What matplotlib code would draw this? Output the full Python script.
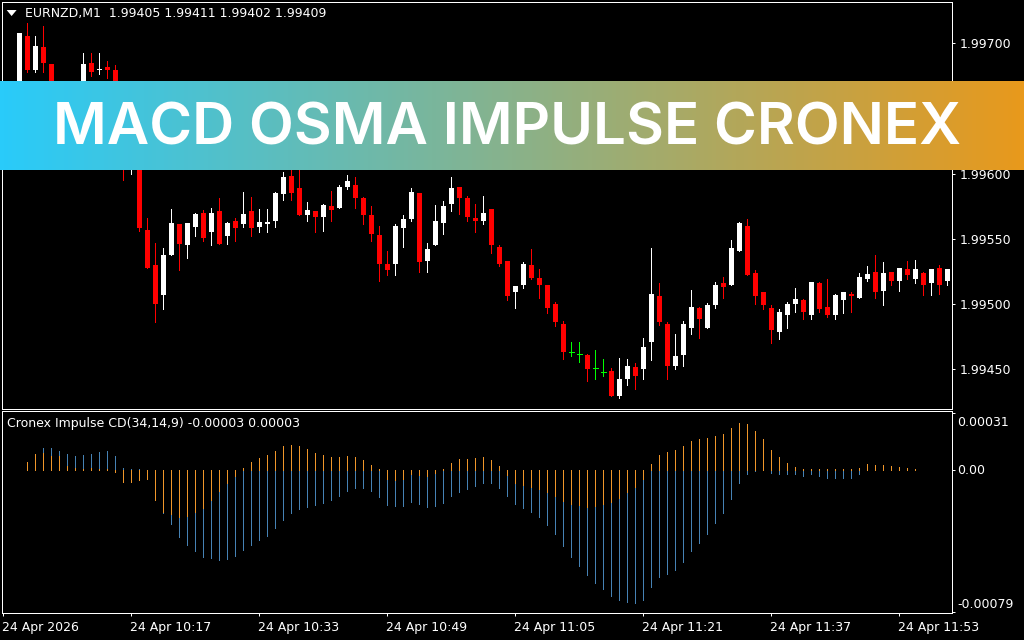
import matplotlib
matplotlib.use('Agg')
import matplotlib.pyplot as plt
from matplotlib.colors import LinearSegmentedColormap
from matplotlib.transforms import ScaledTranslation
import numpy as np

W, H = 1024, 640

# candles, in points above 1.99000 (bars 5-7 and parts of others sit behind the banner)
opens = [664, 705, 679, 697, 684, 640, 650, 646, 650, 685, 679, 682, 679, 630, 615, 640, 557, 530, 507, 538,
         561, 545, 559, 570, 555, 571, 552, 564, 561, 571, 559, 561, 564, 584, 598, 589, 568, 571, 567, 575,
         574, 590, 591, 581, 568, 553, 531, 531, 558, 565, 585, 533, 545, 562, 577, 590, 581, 566, 564, 573,
         544, 533, 509, 515, 530, 520, 515, 500, 485, 463, 462, 461, 451, 448, 449, 430, 443, 452, 450, 471,
         506, 485, 453, 461, 482, 497, 482, 499, 516, 515, 541, 560, 524, 509, 497, 479, 492, 500, 503, 492,
         516, 498, 492, 503, 508, 505, 519, 525, 510, 525, 518, 527, 519, 524, 516, 528, 518]
highs = [708, 715, 705, 713, 684, 650, 662, 668, 692, 692, 692, 686, 683, 640, 650, 645, 566, 547, 543, 573,
         561, 562, 570, 572, 574, 581, 563, 566, 586, 582, 573, 573, 586, 601, 610, 605, 578, 571, 577, 587,
         591, 599, 597, 582, 575, 560, 541, 561, 568, 589, 585, 547, 576, 579, 597, 590, 583, 577, 583, 573,
         545, 533, 514, 532, 542, 527, 515, 502, 487, 471, 471, 462, 465, 458, 451, 459, 458, 455, 474, 543,
         516, 486, 477, 487, 511, 498, 501, 517, 521, 549, 563, 565, 526, 509, 499, 496, 502, 512, 504, 517,
         517, 519, 508, 509, 509, 524, 529, 538, 532, 525, 528, 533, 534, 525, 527, 530, 527]
lows = [664, 678, 678, 678, 658, 632, 640, 640, 645, 675, 676, 673, 650, 595, 600, 556, 528, 486, 496, 538,
        526, 535, 552, 548, 545, 546, 546, 548, 559, 552, 555, 555, 559, 580, 580, 568, 564, 555, 556, 564,
        574, 588, 574, 561, 548, 518, 522, 522, 544, 564, 525, 525, 545, 554, 571, 569, 564, 555, 561, 539,
        529, 503, 497, 512, 519, 505, 493, 483, 458, 460, 456, 441, 443, 445, 430, 428, 438, 435, 443, 457,
        484, 443, 450, 453, 477, 474, 482, 497, 505, 515, 541, 522, 500, 496, 470, 473, 482, 494, 489, 489,
        494, 490, 489, 493, 494, 505, 518, 505, 499, 515, 510, 519, 516, 507, 507, 508, 515]
closes = [708, 679, 698, 685, 660, 648, 644, 660, 684, 678, 680, 679, 656, 615, 640, 558, 528, 500, 538, 562,
          546, 562, 569, 551, 570, 546, 562, 558, 569, 558, 563, 563, 585, 597, 585, 568, 572, 567, 576, 572,
          590, 594, 581, 568, 554, 531, 526, 560, 565, 586, 532, 542, 564, 575, 589, 581, 567, 564, 570, 545,
          531, 506, 514, 531, 520, 515, 497, 486, 463, 463, 462, 450, 451, 448, 430, 443, 453, 445, 467, 508,
          486, 453, 460, 485, 498, 489, 499, 515, 513, 543, 562, 522, 506, 499, 480, 494, 500, 504, 494, 517,
          496, 492, 507, 509, 506, 521, 523, 509, 524, 518, 528, 522, 527, 515, 527, 515, 527]

# indicator, in points (0.00001), bars 1 to 112
osma_orange = [4.2, 8.4, 9.1, 7.5, 7.5, 2.0, 0.7, 0.4, 0.7, 0.2, 0.2, -1.3, -6.7, -6.7, -5.7, -5.1, -16.6, -23.0,
               -24.3, -25.7, -25.4, -23.3, -21.0, -16.6, -11.7, -7.3, -3.5, 0.7, 4.2, 6.4, 8.0, 10.2, 13.0, 13.5,
               13.0, 11.3, 9.1, 8.0, 6.9, 6.9, 7.5, 6.9, 5.3, 2.6, 0.4, -5.1, -5.7, -5.1, -2.4, -2.9, -3.5, -1.8,
               0.4, 3.6, 5.8, 5.8, 6.4, 6.9, 5.3, 2.0, -2.9, -7.3, -8.4, -9.5, -10.6, -12.2, -14.4, -17.1, -18.8,
               -19.3, -20.4, -19.9, -18.8, -17.7, -15.5, -12.2, -9.5, -5.1, 3.1, 8.0, 9.7, 10.8, 13.0, 15.7, 16.8,
               17.3, 18.4, 19.5, 22.8, 25.5, 25.0, 21.2, 16.8, 10.8, 6.9, 3.6, 1.5, 0.4, 0.4, 0.4, 0.4, 0.4, 0.4,
               0.4, 0.9, 3.1, 2.6, 2.6, 2.0, 1.5, 0.9, 0.4]
osma_blue = [2.6, 6.2, 11.9, 11.9, 10.2, 8.6, 7.5, 8.0, 8.6, 9.7, 10.2, 7.5, 0.7, 0.4, 0.2, -1.1, -6.6, -23.7,
             -29.7, -36.8, -41.2, -44.5, -47.8, -48.3, -49.4, -48.9, -47.2, -44.0, -41.2, -38.5, -36.3, -31.9,
             -27.5, -23.7, -21.5, -20.4, -19.3, -18.2, -16.6, -14.4, -11.7, -10.0, -10.0, -11.7, -15.0, -19.3,
             -19.9, -19.9, -17.7, -18.8, -20.4, -19.9, -18.2, -14.4, -12.2, -10.6, -8.9, -7.3, -7.3, -10.0, -14.4,
             -18.8, -21.0, -23.2, -25.9, -30.3, -35.2, -41.8, -47.8, -52.7, -57.6, -62.0, -65.3, -69.1, -71.3,
             -72.4, -73.0, -71.3, -64.2, -58.7, -57.1, -54.9, -50.5, -44.5, -40.1, -35.2, -29.2, -23.7, -16.1,
             -7.3, -2.4, -0.7, -0.2, -1.8, -2.4, -2.4, -2.4, -3.5, -2.4, -3.5, -4.6, -4.6, -4.6, -4.6, -2.4, -0.2,
             0, 0, 0, 0, 0, 0]

price_ticks = [1.99700, 1.99650, 1.99600, 1.99550, 1.99500, 1.99450]
time_ticks = [-2, 14, 30, 46, 62, 78, 94, 110]
time_labels = ['24 Apr 2026', '24 Apr 10:17', '24 Apr 10:33', '24 Apr 10:49', '24 Apr 11:05',
               '24 Apr 11:21', '24 Apr 11:37', '24 Apr 11:53']

FS = 9.0

plt.rcParams['font.family'] = 'DejaVu Sans'


def px_axes(left, top, right, bottom):
    return fig.add_axes([left / W, 1 - bottom / H, (right - left) / W, (bottom - top) / H])


fig = plt.figure(figsize=(W / 100, H / 100), dpi=100, facecolor='black')

LW = 0.72
x_range = (-2.12, 116.63)

ax = px_axes(2, 2, 952, 409)
ax.set_facecolor('black')
xs = np.arange(len(opens))
o = 1.99 + np.array(opens) / 1e5
h = 1.99 + np.array(highs) / 1e5
l = 1.99 + np.array(lows) / 1e5
c = 1.99 + np.array(closes) / 1e5
colors = ['#00ff00' if a == b else ('white' if b > a else '#ff0000') for a, b in zip(opens, closes)]
ax.vlines(xs, l, h, colors=colors, linewidth=LW, antialiased=False)
# half a pixel to the right so the 5px body sits centred on the 1px wick
ax.bar(xs + 0.0625, np.abs(c - o), bottom=np.minimum(o, c), width=0.625, color=colors, linewidth=0,
       antialiased=False)
doji = o == c
ax.hlines(o[doji], xs[doji] - 0.25, xs[doji] + 0.375, colors='#00ff00', linewidth=LW, antialiased=False)
ax.set_xlim(*x_range)
ax.set_ylim(1.994197, 1.997314)
ax.set_xticks([])
ax.yaxis.tick_right()
ax.set_yticks(price_ticks)
ax.set_yticklabels(['%.5f' % p for p in price_ticks], color='white', fontsize=FS)
ax.tick_params(axis='y', colors='white', length=2.2, width=LW, pad=3.3)

sub = px_axes(2, 411, 952, 613)
sub.set_facecolor('black')
bx = np.arange(1, len(osma_orange) + 1)
blue = np.array(osma_blue) / 1e5
orange = np.array(osma_orange) / 1e5
sub.vlines(bx, 0, blue, colors='#4682b4', linewidth=LW, antialiased=False)
sub.vlines(bx, 0, orange, colors='#f0962a', linewidth=LW, antialiased=False)
sub.set_xlim(*x_range)
sub.set_ylim(-0.000785, 0.000321)
sub.yaxis.tick_right()
sub.set_yticks([0.00031, 0, -0.00078])
sub.set_yticklabels([])
sub.set_xticks(time_ticks)
sub.set_xticklabels(time_labels, color='white', fontsize=FS, ha='left')
sub.tick_params(axis='both', colors='white', length=2.2, width=LW)
sub.tick_params(axis='x', pad=3.2)
for lab in sub.get_xticklabels():
    lab.set_transform(lab.get_transform() + ScaledTranslation(-1 / 100, 0, fig.dpi_scale_trans))

for a in (ax, sub):
    for s in a.spines.values():
        s.set_color('white')
        s.set_linewidth(LW)

for y, s in [(422, '0.00031'), (470, '0.00'), (604, '-0.00079')]:
    fig.text(957 / W, 1 - y / H, s, color='white', fontsize=FS, va='center', ha='left')

# header texts
fig.text(25 / W, 1 - 14 / H, 'EURNZD,M1  1.99405 1.99411 1.99402 1.99409', color='white', fontsize=FS,
         va='center', ha='left')
fig.text(7 / W, 1 - 424 / H, 'Cronex Impulse CD(34,14,9) -0.00003 0.00003', color='white', fontsize=FS,
         va='center', ha='left')
ax.fill([0.0049, 0.0154, 0.0101], [0.9803, 0.9803, 0.9655], color='white', transform=ax.transAxes,
        linewidth=0, clip_on=False)

# title banner
banner = px_axes(0, 81, W, 170)
banner.set_zorder(5)
cmap = LinearSegmentedColormap.from_list('banner', ['#29cbfa', '#e8991c'])
banner.imshow(np.linspace(0, 1, 512).reshape(1, -1), cmap=cmap, aspect='auto', extent=(0, 1, 0, 1))
banner.axis('off')
banner.text(507.5 / W, 0.455, 'MACD OSMA IMPULSE CRONEX', color='white', fontsize=42, family='Inter',
            fontweight='semibold', ha='center', va='center', transform=banner.transAxes)

fig.savefig('out.png', dpi=100, facecolor='black')
